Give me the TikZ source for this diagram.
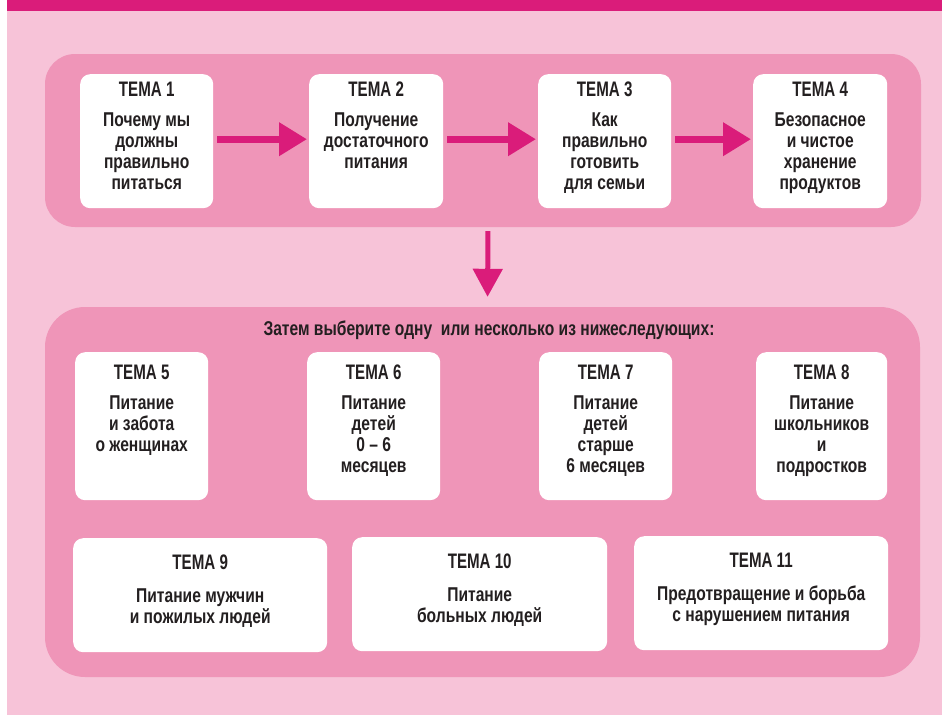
\documentclass[tikz,border=0pt]{standalone}
\usepackage{fontspec}
\setmainfont{Liberation Sans}[FakeStretch=0.78]
\newfontfamily\headfont{Liberation Sans}[FakeStretch=0.72]
\usetikzlibrary{arrows.meta}
\definecolor{magentaband}{HTML}{DA1C7A}
\definecolor{lightbg}{HTML}{F7C3D8}
\definecolor{panelpink}{HTML}{EF95B8}
\definecolor{inkdark}{HTML}{231F20}
\tikzset{
  panel/.style={fill=panelpink, draw=none, inner sep=0pt},
  box/.style={fill=white, draw=none, rounded corners=10pt, inner sep=0pt},
  txt/.style={align=center, inner sep=0pt, text=inkdark,
    font=\bfseries\fontsize{20}{21}\selectfont},
  harrow/.style={draw=magentaband, line width=7pt,
    -{Triangle[length=28pt,width=32pt]}, shorten <=4pt, shorten >=2pt},
  varrow/.style={draw=magentaband, line width=5pt,
    -{Triangle[length=28pt,width=29pt]}, shorten <=4pt, shorten >=10pt},
}
\newcommand\hd[1]{{\headfont\bfseries\fontsize{21}{21}\selectfont #1}}
% #1 name, #2 left x, #3 top y, #4 width, #5 height, #6 text offset, #7 text
\newcommand\temabox[7]{%
  \node[box, minimum width=#4pt, minimum height=#5pt, anchor=north west] (#1) at (#2,#3) {};
  \node[txt, anchor=north] (#1t) at ([yshift=-#6pt]#1.north) {#7};
}
\begin{document}
\begin{tikzpicture}[x=1pt,y=-1pt]
\useasboundingbox (0,0) rectangle (942,715);
\fill[white] (0,0) rectangle (942,715);
\fill[lightbg] (7,11) rectangle (942,715);
\fill[magentaband] (7,0) rectangle (942,11);

\node[panel, rounded corners=30pt, minimum width=876pt, minimum height=173pt] (toppanel) at (483,140.5) {};
\node[panel, rounded corners=40pt, minimum width=875pt, minimum height=370pt] (botpanel) at (482.5,492) {};

\temabox{b1}{80}{74}{133}{134}{8}{\hd{ТЕМА 1}\\[9pt]Почему мы\\должны\\правильно\\питаться}
\temabox{b2}{309}{74}{134}{134}{8}{\hd{ТЕМА 2}\\[9pt]Получение\\достаточного\\питания}
\temabox{b3}{538}{74}{133}{134}{8}{\hd{ТЕМА 3}\\[9pt]Как\\правильно\\готовить\\для семьи}
\temabox{b4}{753}{74}{134}{134}{8}{\hd{ТЕМА 4}\\[9pt]Безопасное\\и чистое\\хранение\\продуктов}

\draw[harrow] ([yshift=2pt]b1.east) -- ([yshift=2pt]b2.west);
\draw[harrow] ([yshift=2pt]b2.east) -- ([yshift=2pt]b3.west);
\draw[harrow] ([yshift=2pt]b3.east) -- ([yshift=2pt]b4.west);

\draw[varrow] ([xshift=5pt]toppanel.south) -- ([xshift=5pt]botpanel.north);

\node[txt, anchor=base] (intro) at (489,335) {Затем выберите одну\ \ или несколько из нижеследующих:};

\temabox{b5}{75}{352}{133}{148}{13}{\hd{ТЕМА 5}\\[9pt]Питание\\и забота\\о женщинах}
\temabox{b6}{307}{352}{133}{148}{13}{\hd{ТЕМА 6}\\[9pt]Питание\\детей\\0 – 6\\месяцев}
\temabox{b7}{539}{352}{133}{148}{13}{\hd{ТЕМА 7}\\[9pt]Питание\\детей\\старше\\6 месяцев}
\temabox{b8}{756}{352}{131}{148}{13}{\hd{ТЕМА 8}\\[9pt]Питание\\школьников\\и\\подростков}

\temabox{b9}{73}{538}{254}{114}{17}{\hd{ТЕМА 9}\\[12pt]Питание мужчин\\и пожилых людей}
\temabox{b10}{352}{537}{255}{114}{17}{\hd{ТЕМА 10}\\[12pt]Питание\\больных людей}
\temabox{b11}{634}{536}{254}{114}{17}{\hd{ТЕМА 11}\\[12pt]Предотвращение и борьба\\с нарушением питания}
\end{tikzpicture}
\end{document}
